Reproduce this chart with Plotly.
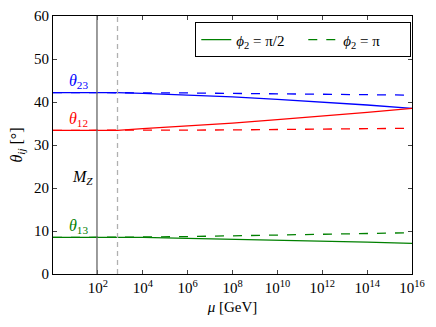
import plotly.graph_objects as go

# scale mu [GeV] and mixing angles [deg]
mu = [1, 91.19, 750, 1e4, 1e6, 1e8, 1e10, 1e12, 1e14, 1e16]

th23_half = [42.2, 42.2, 42.2, 42.0, 41.6, 41.2, 40.6, 40.0, 39.3, 38.5]
th23_pi = [42.2, 42.2, 42.2, 42.2, 42.1, 42.0, 41.9, 41.8, 41.7, 41.6]
th12_half = [33.4, 33.4, 33.4, 33.8, 34.4, 35.1, 35.9, 36.7, 37.6, 38.5]
th12_pi = [33.4, 33.4, 33.4, 33.4, 33.5, 33.5, 33.6, 33.7, 33.8, 33.9]
th13_half = [8.5, 8.5, 8.5, 8.5, 8.3, 8.1, 7.9, 7.6, 7.4, 7.1]
th13_pi = [8.5, 8.5, 8.5, 8.6, 8.7, 8.9, 9.0, 9.2, 9.4, 9.6]

MZ = 91.19
M_SUSY = 750

FONT = "Liberation Serif"

fig = go.Figure()

series = [
    (th23_half, th23_pi, "#0000ff"),
    (th12_half, th12_pi, "#ff0000"),
    (th13_half, th13_pi, "#008000"),
]
for solid, dashed, col in series:
    fig.add_trace(go.Scatter(x=mu, y=dashed, mode="lines", line=dict(color=col, width=1.3, dash="dash"),
                             showlegend=False))
    fig.add_trace(go.Scatter(x=mu, y=solid, mode="lines", line=dict(color=col, width=1.3),
                             showlegend=False))

# legend entries
fig.add_trace(go.Scatter(x=[None], y=[None], mode="lines", line=dict(color="#008000", width=1.3),
                         name="<i>ϕ</i><sub>2</sub> = π/2"))
fig.add_trace(go.Scatter(x=[None], y=[None], mode="lines", line=dict(color="#008000", width=1.3, dash="dash"),
                         name="<i>ϕ</i><sub>2</sub> = π"))

fig.add_vline(x=MZ, line=dict(color="#666666", width=1.3))
fig.add_vline(x=M_SUSY, line=dict(color="#b0b0b0", width=1.3, dash="5px,4px"))

fig.add_annotation(x=0.62, y=44.8, xref="x", yref="y", text="<i>θ</i><sub>23</sub>", showarrow=False,
                   font=dict(color="#0000ff", size=16, family=FONT), xanchor="left")
fig.add_annotation(x=0.62, y=36.0, xref="x", yref="y", text="<i>θ</i><sub>12</sub>", showarrow=False,
                   font=dict(color="#ff0000", size=16, family=FONT), xanchor="left")
fig.add_annotation(x=0.62, y=11.0, xref="x", yref="y", text="<i>θ</i><sub>13</sub>", showarrow=False,
                   font=dict(color="#008000", size=16, family=FONT), xanchor="left")
fig.add_annotation(x=1.88, y=22.5, xref="x", yref="y", text="<i>M<sub>Z</sub></i>", showarrow=False,
                   font=dict(color="black", size=16, family=FONT), xanchor="right")

fig.update_xaxes(type="log", range=[0, 16],
                 tickvals=[10 ** k for k in range(2, 17, 2)],
                 ticktext=["10<sup>%d</sup>" % k for k in range(2, 17, 2)],
                 ticks="inside", ticklen=4, mirror="allticks", showline=True, linecolor="black",
                 showgrid=False, zeroline=False, automargin=False,
                 title=dict(text="<i>μ</i> [GeV]", standoff=6, font=dict(size=15)))
fig.update_yaxes(range=[0, 60], tickvals=[0, 10, 20, 30, 40, 50, 60],
                 ticks="inside", ticklen=4, mirror="allticks", showline=True, linecolor="black",
                 showgrid=False, zeroline=False, automargin=False,
                 title=dict(text="<i>θ<sub>ij</sub></i> [°]", standoff=8, font=dict(size=16)))

# page body adds an 8px offset, so the figure is drawn slightly smaller
fig.update_layout(
    width=428, height=319,
    margin=dict(l=45, r=24, t=8, b=53),
    plot_bgcolor="white", paper_bgcolor="white",
    font=dict(family=FONT, size=15, color="black"),
    legend=dict(orientation="h", x=0.998, y=0.975, xanchor="right", yanchor="top",
                bordercolor="black", borderwidth=1, bgcolor="white",
                font=dict(size=15), entrywidth=62),
)

fig.write_html("out.html")
